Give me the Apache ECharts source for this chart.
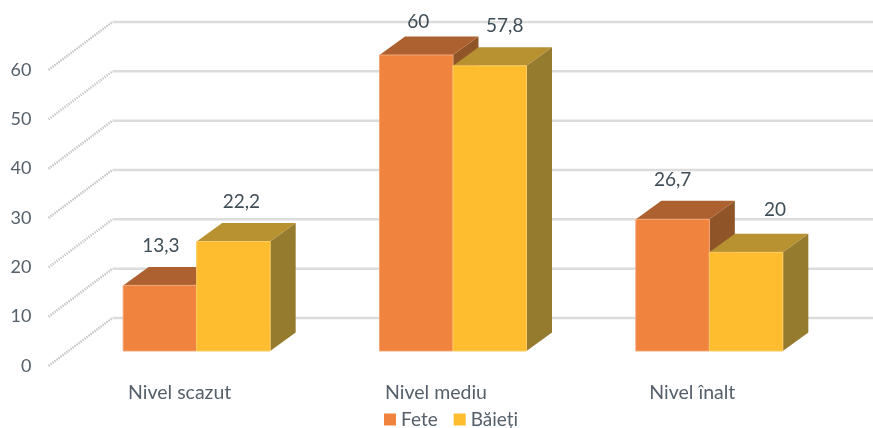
<!DOCTYPE html>
<html>
<head>
<meta charset="utf-8">
<style>html,body{margin:0;padding:0;background:#fff}#chart{width:873px;height:428px}</style>
<script src="https://cdn.jsdelivr.net/npm/echarts@6/dist/echarts.min.js"></script>
</head>
<body>
<div id="chart"></div>
<script>
const categories = ['Nivel scazut', 'Nivel mediu', 'Nivel înalt'];
const seriesNames = ['Fete', 'Băieți'];
const fete = [13.3, 60, 26.7];
const baieti = [22.2, 57.8, 20];
const yTicks = [0, 10, 20, 30, 40, 50, 60];

// Label nudges from the top-centre of each bar's front face
const feteLabelNudge = [[1, -40], [2, -33], [0, -39]];
const baietiLabelNudge = [[8, -40], [15, -40], [29, -42]];

const FONT = 'Lato';
const AXIS_TEXT = '#55606a';
const VALUE_TEXT = '#3f4d56';

// Projection of the pseudo-3D scene
const WALL_DX = 64, WALL_DY = -48;
const FLOOR_DX = 17, FLOOR_DY = -15;
const BAR_DX = 25.5, BAR_DY = -18.5;
const BAR_WIDTH = 73.5;

const pts = a => ({ points: a });
const fmt = v => String(v).replace('.', ',');

function wallLines(params, api) {
  const left = params.coordSys.x - 3;
  const right = params.coordSys.x + params.coordSys.width + WALL_DX + 20;
  const y = api.coord([0, api.value(1)])[1];
  return {
    type: 'group',
    children: [
      {
        type: 'polyline',
        shape: pts([[left, y], [left + WALL_DX, y + WALL_DY]]),
        style: { stroke: '#cbcbcb', lineWidth: 2.5, lineDash: [1.5, 1], fill: null }
      },
      {
        type: 'polyline',
        shape: pts([[left + WALL_DX, y + WALL_DY], [right, y + WALL_DY]]),
        style: { stroke: '#dcdcdc', lineWidth: 2.5, fill: null }
      }
    ]
  };
}

function barRenderer(side, colors, nudges) {
  return function (params, api) {
    const top = api.coord([api.value(0), api.value(1)]);
    const base = api.coord([api.value(0), 0]);
    const xA = top[0] + FLOOR_DX + (side < 0 ? -BAR_WIDTH : 0);
    const xB = xA + BAR_WIDTH;
    const yT = top[1] + FLOOR_DY;
    const yB = base[1] + FLOOR_DY;
    const nudge = nudges[params.dataIndex];
    const edge = { stroke: colors.edge, lineWidth: 1 };
    return {
      type: 'group',
      children: [
        {
          type: 'polygon',
          shape: pts([[xB, yT], [xB + BAR_DX, yT + BAR_DY], [xB + BAR_DX, yB + BAR_DY], [xB, yB]]),
          style: { fill: colors.side }
        },
        {
          type: 'polygon',
          shape: pts([[xA, yT], [xA + BAR_DX, yT + BAR_DY], [xB + BAR_DX, yT + BAR_DY], [xB, yT]]),
          style: { fill: colors.top }
        },
        {
          type: 'rect',
          shape: { x: xA, y: yT, width: BAR_WIDTH, height: yB - yT },
          style: Object.assign({ fill: colors.front }, edge)
        },
        {
          type: 'text',
          x: (xA + xB) / 2 + nudge[0],
          y: yT + nudge[1],
          style: {
            text: fmt(api.value(1)),
            fill: VALUE_TEXT,
            font: '19px ' + FONT,
            align: 'center',
            verticalAlign: 'middle'
          }
        }
      ]
    };
  };
}

const feteColors = { front: '#f0843f', top: '#ad6130', side: '#8f5427', edge: '#f4a577' };
const baietiColors = { front: '#febd2e', top: '#b89230', side: '#957b2e', edge: '#fdcb62' };

const chart = echarts.init(document.getElementById('chart'), null, { renderer: 'canvas' });
chart.setOption({
  animation: false,
  backgroundColor: '#ffffff',
  grid: { left: 51.5, top: 70, width: 769, height: 296, containLabel: false },
  legend: {
    data: seriesNames,
    left: 379,
    top: 405,
    itemWidth: 12,
    itemHeight: 12,
    itemGap: 16,
    icon: 'rect',
    textStyle: { fontFamily: FONT, fontSize: 19, color: AXIS_TEXT }
  },
  xAxis: {
    type: 'category',
    data: categories,
    axisLine: { show: false },
    axisTick: { show: false },
    axisLabel: { margin: 17, fontFamily: FONT, fontSize: 19.5, color: AXIS_TEXT }
  },
  yAxis: {
    type: 'value',
    min: 0,
    max: 60,
    interval: 10,
    splitLine: { show: false },
    axisLine: { show: false },
    axisTick: { show: false },
    axisLabel: { margin: 20, fontFamily: FONT, fontSize: 18, color: AXIS_TEXT }
  },
  series: [
    {
      type: 'custom',
      silent: true,
      clip: false,
      legendHoverLink: false,
      renderItem: wallLines,
      encode: { x: 0, y: 1 },
      data: yTicks.map(v => [0, v]),
      z: 1
    },
    {
      type: 'custom',
      name: seriesNames[0],
      clip: false,
      itemStyle: { color: feteColors.front },
      renderItem: barRenderer(-1, feteColors, feteLabelNudge),
      encode: { x: 0, y: 1 },
      data: fete.map((v, i) => [i, v]),
      z: 2
    },
    {
      type: 'custom',
      name: seriesNames[1],
      clip: false,
      itemStyle: { color: baietiColors.front },
      renderItem: barRenderer(1, baietiColors, baietiLabelNudge),
      encode: { x: 0, y: 1 },
      data: baieti.map((v, i) => [i, v]),
      z: 3
    }
  ]
});
</script>
</body>
</html>
